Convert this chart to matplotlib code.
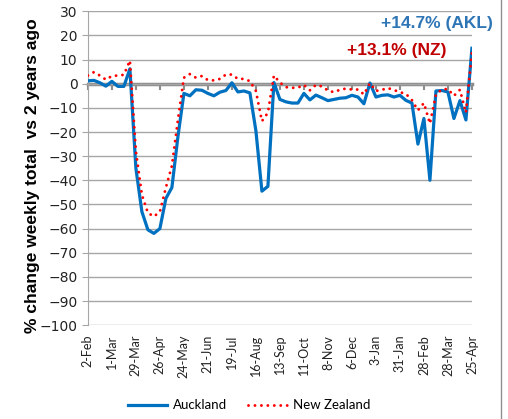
import numpy as np
import matplotlib.pyplot as plt
from matplotlib.lines import Line2D

# weekly points, 2-Feb-2020 .. 25-Apr-2021
weeks = np.arange(65)
tick_labels = ["2-Feb", "1-Mar", "29-Mar", "26-Apr", "24-May", "21-Jun", "19-Jul",
               "16-Aug", "13-Sep", "11-Oct", "8-Nov", "6-Dec", "3-Jan", "31-Jan",
               "28-Feb", "28-Mar", "25-Apr"]

auckland = [1.2, 1.4, 0.4, -1.0, 1.0, -1.1, -1.1, 6.2, -35, -53, -60.5, -62, -60, -47.5,
            -43, -22, -4, -5, -2.5, -2.7, -4, -5, -3.5, -2.8, 0.4, -3.4, -3, -3.8,
            -19.5, -44.5, -42.5, 0.5, -6.5, -7.5, -8, -8, -4, -6.7, -4.7, -5.8, -7,
            -6.5, -6, -5.8, -4.8, -5.5, -8.3, 0.3, -5.5, -4.8, -4.6, -5.5, -4.8, -6.9,
            -8, -25, -14.4, -40, -3, -2.8, -3.4, -14.4, -7, -15, 14.7]

new_zealand = [3.4, 4.8, 3.4, 1.7, 3.2, 3.4, 3.7, 9.6, -28, -46, -53.5, -55, -53, -43,
               -34, -15, 2.5, 4, 2.5, 3.2, 1.5, 1.4, 2, 3.8, 3.8, 2, 2, 1.1, -3, -15.5,
               -12, 3.4, 0.5, -1.4, -1.7, -1.6, -0.5, -2.7, -0.5, -1.1, -2.8, -3.5, -2.5,
               -2, -2.4, -2.4, -4.4, 0.2, -3, -2.5, -1.8, -2.6, -3.5, -4.2, -6.8, -11,
               -8, -16.5, -4.5, -2.3, -2.2, -5, -2.5, -12, 13.1]

blue = '#0070C0'
red = '#FF0000'
grid_grey = '#a6a6a6'

fig = plt.figure(figsize=(5.08, 4.19), dpi=100)
ax = fig.add_axes([0.173, 0.224, 0.756, 0.749])

ax.plot(weeks, auckland, color=blue, lw=2.3, label='Auckland', zorder=3)
ax.plot(weeks, new_zealand, color=red, lw=2.1, linestyle=(0, (0.01, 2.2)),
        dash_capstyle='round', label='New Zealand', zorder=4)

ax.set_xlim(0, 64)
ax.set_ylim(-100, 30)
ax.set_yticks(np.arange(-100, 31, 10))
ax.yaxis.grid(True, color=grid_grey, lw=1)
ax.set_axisbelow(True)

ax.set_xticks(weeks[::4])
ax.set_xticklabels(tick_labels, rotation=90, fontfamily='Lato', fontsize=9, color='#222222')
ax.tick_params(axis='x', length=0, pad=7)
ax.tick_params(axis='y', length=4, color=grid_grey, labelsize=10, labelcolor='#222222')
for s in ['top', 'right', 'bottom']:
    ax.spines[s].set_visible(False)
ax.spines['left'].set_color(grid_grey)

# zero axis line with ticks
sec = ax.secondary_xaxis((0 - (-100)) / 130)
sec.set_alignment('bottom')
sec.set_xticks(weeks[::4])
sec.tick_params(axis='x', labelbottom=False, length=4, width=1.5, color='#8c8c8c')
sec.spines['bottom'].set_color('#8c8c8c')
sec.spines['bottom'].set_linewidth(2.5)

ax.set_ylabel('% change weekly total  vs 2 years ago', fontweight='bold', fontsize=12.5,
              fontfamily='Liberation Sans')
ax.yaxis.set_label_coords(-0.125, 0.475)

ax.text(1.055, 0.962, '+14.7% (AKL)', transform=ax.transAxes, ha='right', va='center',
        color='#2E75B6', fontweight='bold', fontsize=12.5, fontfamily='Liberation Sans', clip_on=False)
ax.text(0.935, 0.876, '+13.1% (NZ)', transform=ax.transAxes, ha='right', va='center',
        color='#C00000', fontweight='bold', fontsize=12.5, fontfamily='Liberation Sans', clip_on=False)

fig.legend(loc='center', bbox_to_anchor=(0.49, 0.033), ncol=2, frameon=False,
           prop={'family': 'Lato', 'size': 9.5}, handlelength=3, handletextpad=0.4,
           columnspacing=1.6)

fig.add_artist(Line2D([0.986, 0.986], [0, 1], transform=fig.transFigure, color='#909090', lw=1))

fig.savefig('out.png', dpi=100)
